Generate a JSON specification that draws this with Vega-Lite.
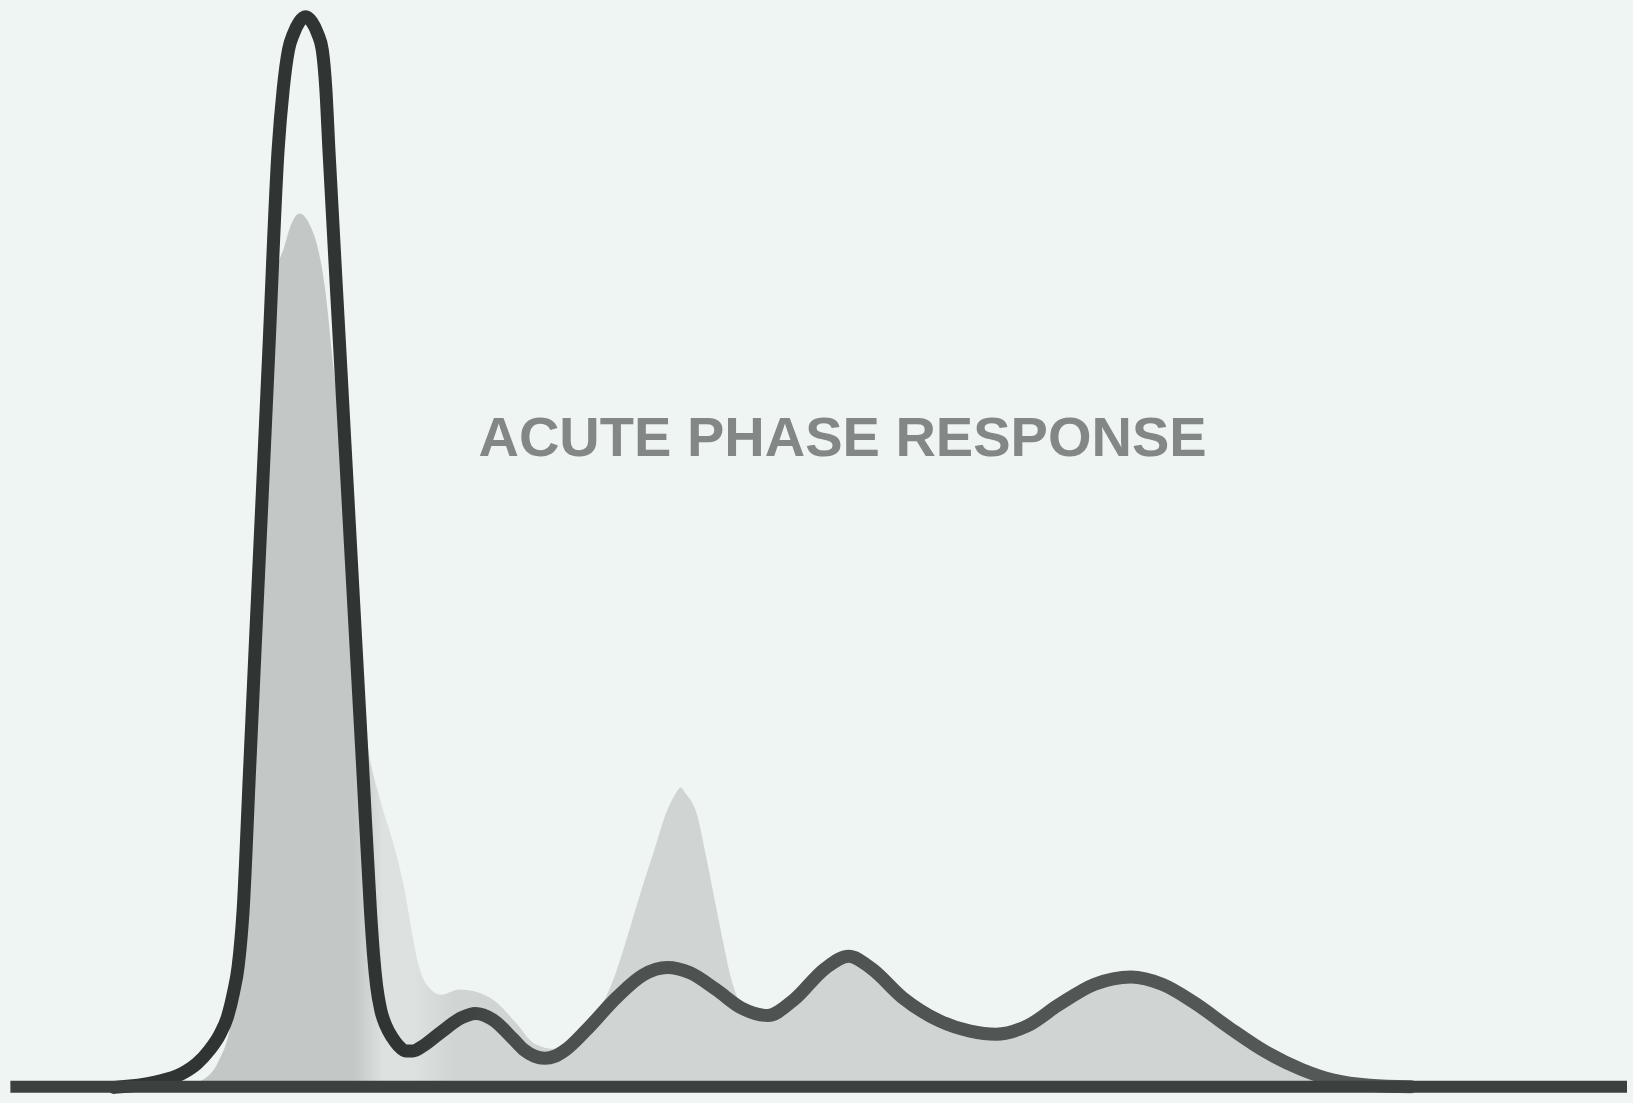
{
  "$schema": "https://vega.github.io/schema/vega-lite/v6.json",
  "width": 1633,
  "height": 1103,
  "autosize": {"type": "fit", "contains": "padding"},
  "padding": 0,
  "background": "#eef5f3",
  "config": {"view": {"stroke": null}},
  "datasets": {
    "normal": [
      {"m": 110, "d": 1}, {"m": 150, "d": 6}, {"m": 175, "d": 14}, {"m": 190, "d": 24},
      {"m": 202, "d": 37}, {"m": 212, "d": 52}, {"m": 219, "d": 68}, {"m": 225, "d": 92},
      {"m": 229.5, "d": 117}, {"m": 234.3, "d": 171}, {"m": 240.4, "d": 303}, {"m": 245.8, "d": 421},
      {"m": 252.5, "d": 565}, {"m": 259.1, "d": 709}, {"m": 268, "d": 901}, {"m": 273, "d": 960},
      {"m": 278, "d": 997}, {"m": 283, "d": 1013}, {"m": 288.5, "d": 1024}, {"m": 294.5, "d": 1029},
      {"m": 300.5, "d": 1024}, {"m": 306, "d": 1013}, {"m": 310.6, "d": 997}, {"m": 314, "d": 960},
      {"m": 317, "d": 901}, {"m": 327.5, "d": 709}, {"m": 335.4, "d": 565}, {"m": 343.3, "d": 421},
      {"m": 349.8, "d": 303}, {"m": 357, "d": 171}, {"m": 360, "d": 128}, {"m": 363, "d": 98},
      {"m": 367, "d": 75}, {"m": 372, "d": 60}, {"m": 378, "d": 49}, {"m": 384, "d": 41},
      {"m": 391, "d": 36}, {"m": 398, "d": 36}, {"m": 408, "d": 41}, {"m": 425, "d": 54},
      {"m": 445, "d": 68}, {"m": 458, "d": 72}, {"m": 475, "d": 66}, {"m": 495, "d": 47},
      {"m": 505, "d": 37}, {"m": 515, "d": 31}, {"m": 525, "d": 29}, {"m": 535, "d": 31},
      {"m": 545, "d": 37}, {"m": 565, "d": 56}, {"m": 595, "d": 88}, {"m": 620, "d": 109},
      {"m": 643, "d": 116}, {"m": 665, "d": 111}, {"m": 690, "d": 95}, {"m": 715, "d": 77},
      {"m": 740, "d": 70}, {"m": 765, "d": 85}, {"m": 795, "d": 115}, {"m": 818, "d": 127},
      {"m": 840, "d": 115}, {"m": 870, "d": 87}, {"m": 905, "d": 65}, {"m": 935, "d": 55},
      {"m": 960, "d": 52}, {"m": 990, "d": 60}, {"m": 1020, "d": 80}, {"m": 1055, "d": 100},
      {"m": 1090, "d": 107}, {"m": 1120, "d": 100}, {"m": 1150, "d": 83}, {"m": 1185, "d": 58},
      {"m": 1220, "d": 35}, {"m": 1255, "d": 18}, {"m": 1285, "d": 8}, {"m": 1320, "d": 3},
      {"m": 1360, "d": 1.5}
    ],
    "acute": [
      {"m": 170, "d": 0}, {"m": 195, "d": 8}, {"m": 210, "d": 25}, {"m": 222, "d": 60},
      {"m": 230, "d": 115}, {"m": 235, "d": 175}, {"m": 241, "d": 300}, {"m": 246.5, "d": 420},
      {"m": 253.5, "d": 565}, {"m": 260, "d": 700}, {"m": 266, "d": 780}, {"m": 274, "d": 808},
      {"m": 280, "d": 828}, {"m": 289, "d": 840}, {"m": 299, "d": 828}, {"m": 306, "d": 808},
      {"m": 313, "d": 770}, {"m": 320, "d": 705}, {"m": 327, "d": 640}, {"m": 333, "d": 575},
      {"m": 340, "d": 480}, {"m": 347, "d": 385}, {"m": 355, "d": 325}, {"m": 367, "d": 275},
      {"m": 380, "d": 232}, {"m": 390, "d": 190}, {"m": 397, "d": 150}, {"m": 403, "d": 120},
      {"m": 411, "d": 100}, {"m": 425, "d": 90}, {"m": 443, "d": 95}, {"m": 458, "d": 93},
      {"m": 478, "d": 83}, {"m": 498, "d": 62}, {"m": 515, "d": 43}, {"m": 535, "d": 38},
      {"m": 555, "d": 50}, {"m": 572, "d": 70}, {"m": 584, "d": 88}, {"m": 592, "d": 107},
      {"m": 605, "d": 147}, {"m": 617, "d": 187}, {"m": 630, "d": 227}, {"m": 643, "d": 267},
      {"m": 651, "d": 283}, {"m": 656, "d": 289}, {"m": 661, "d": 283}, {"m": 672, "d": 262},
      {"m": 680, "d": 225}, {"m": 688, "d": 185}, {"m": 696, "d": 145}, {"m": 704, "d": 108},
      {"m": 712, "d": 84}, {"m": 725, "d": 70}, {"m": 740, "d": 65}, {"m": 765, "d": 80},
      {"m": 795, "d": 110}, {"m": 818, "d": 122}, {"m": 840, "d": 110}, {"m": 870, "d": 82},
      {"m": 905, "d": 60}, {"m": 935, "d": 50}, {"m": 960, "d": 47}, {"m": 990, "d": 55},
      {"m": 1020, "d": 75}, {"m": 1055, "d": 95}, {"m": 1090, "d": 102}, {"m": 1120, "d": 95},
      {"m": 1150, "d": 78}, {"m": 1185, "d": 53}, {"m": 1220, "d": 30}, {"m": 1255, "d": 13},
      {"m": 1285, "d": 4}, {"m": 1310, "d": 0}
    ],
    "base": [{"m": 10, "m2": 1568, "d": 1.5}],
    "label": [{"m": 812, "d": 607, "text": "ACUTE PHASE RESPONSE"}]
  },
  "layer": [
    {
      "data": {"name": "acute"},
      "mark": {
        "type": "area",
        "interpolate": "monotone",
        "color": {
          "gradient": "linear", "x1": 0, "x2": 1, "y1": 0, "y2": 0,
          "stops": [
            {"offset": 0, "color": "#c3c7c6"},
            {"offset": 0.15, "color": "#c3c7c6"},
            {"offset": 0.175, "color": "#dde2e0"},
            {"offset": 0.2, "color": "#dde2e0"},
            {"offset": 0.235, "color": "#d0d4d3"},
            {"offset": 1, "color": "#d0d4d3"}
          ]
        }
      },
      "encoding": {
        "x": {"field": "m", "type": "quantitative", "scale": {"domain": [0, 1568], "nice": false, "zero": false}, "axis": null},
        "y": {"field": "d", "type": "quantitative", "scale": {"domain": [-14, 1045], "nice": false, "zero": false}, "axis": null}
      }
    },
    {
      "data": {"name": "normal"},
      "mark": {
        "type": "line",
        "interpolate": "monotone",
        "strokeWidth": 13,
        "strokeJoin": "round",
        "strokeCap": "round",
        "color": {
          "gradient": "linear", "x1": 0, "x2": 1, "y1": 0, "y2": 0,
          "stops": [
            {"offset": 0, "color": "#303433"},
            {"offset": 0.22, "color": "#303433"},
            {"offset": 0.32, "color": "#4c504f"},
            {"offset": 1, "color": "#555958"}
          ]
        }
      },
      "encoding": {
        "x": {"field": "m", "type": "quantitative"},
        "y": {"field": "d", "type": "quantitative"}
      }
    },
    {
      "data": {"name": "base"},
      "mark": {"type": "rule", "color": "#3c403f", "strokeWidth": 12},
      "encoding": {
        "x": {"field": "m", "type": "quantitative"},
        "x2": {"field": "m2"},
        "y": {"field": "d", "type": "quantitative"}
      }
    },
    {
      "data": {"name": "label"},
      "mark": {"type": "text", "font": "Liberation Sans", "fontSize": 56, "fontWeight": "bold", "color": "#838786", "align": "center", "baseline": "alphabetic"},
      "encoding": {
        "x": {"field": "m", "type": "quantitative"},
        "y": {"field": "d", "type": "quantitative"},
        "text": {"field": "text"}
      }
    }
  ]
}
